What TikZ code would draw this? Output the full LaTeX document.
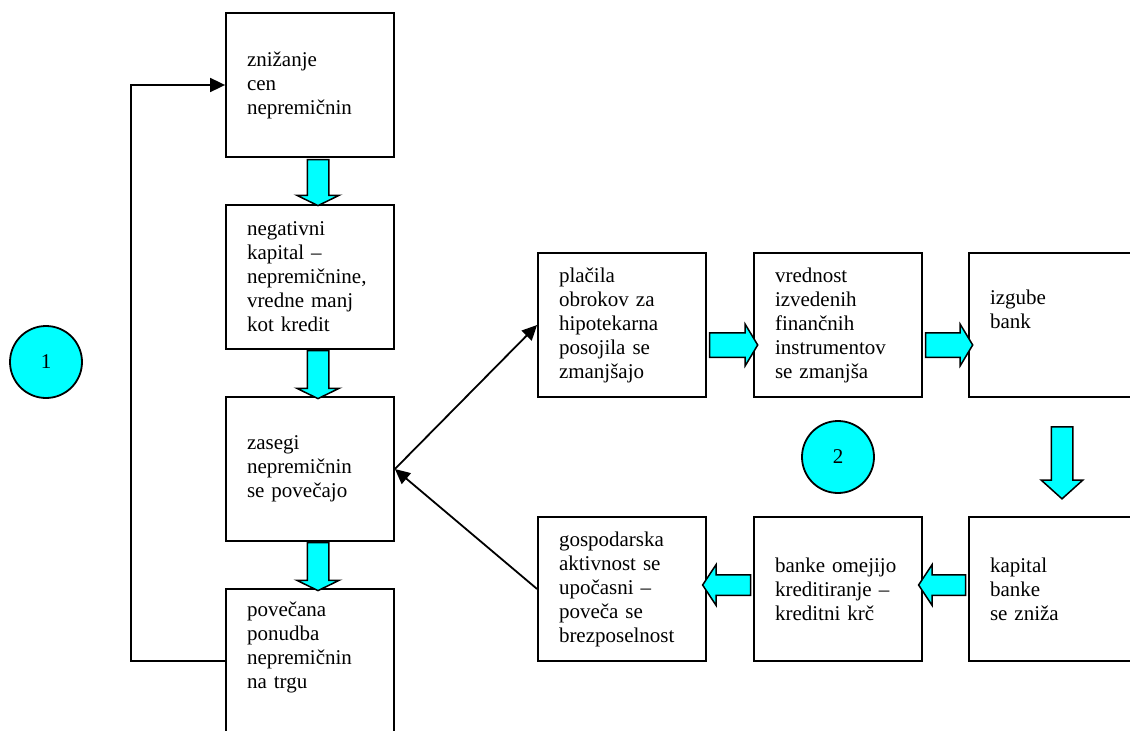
\documentclass[tikz,border=0pt]{standalone}
\usepackage{fontspec}
\setmainfont{Liberation Serif}
\usetikzlibrary{shapes,arrows.meta,positioning}
\definecolor{aqua}{RGB}{0,255,255}

\begin{document}
\begin{tikzpicture}[x=1pt,y=-1pt]
	\tikzstyle{Box}		= [draw, line width=1.8pt, rectangle, minimum width=168pt, minimum height=144pt, text width=126pt, inner xsep=21pt, inner ysep=0pt, align=left, font=\fontsize{21}{24}\selectfont]
	\tikzstyle{Num}		= [draw, line width=1.8pt, circle, fill=aqua, minimum size=72pt, inner sep=0pt, font=\fontsize{21}{24}\selectfont]
	\tikzstyle{Blk}		= [draw, line width=1.5pt, fill=aqua, single arrow, inner xsep=0pt, inner ysep=10pt, text height=0pt, text depth=0pt, text width=0pt, single arrow head extend=10.5pt]
	\tikzstyle{Down}	= [rotate=-90, single arrow tip angle=128]
	\tikzstyle{Right}	= [inner ysep=11.5pt, single arrow head extend=8.5pt, single arrow tip angle=118]
	\tikzstyle{Left}	= [rotate=180, inner ysep=9.5pt, single arrow head extend=10pt, single arrow tip angle=113]
	\tikzstyle{Flow}	= [line width=1.8pt, -{Triangle[length=15pt,width=14pt]}]

	\clip (0,0) rectangle (1130,731);

	\node (zn)  at (310,85)  [Box] {znižanje\\cen\\nepremičnin};
	\node (neg) at (310,277) [Box] {negativni\\kapital –\\nepremičnine,\\vredne manj\\kot kredit};
	\node (zas) at (310,469) [Box] {zasegi\\nepremičnin\\se povečajo};
	\node (pov) at (310,661) [Box] {povečana\\ponudba\\nepremičnin\\na trgu\\\strut};

	\node (pla) at (622,325)  [Box] {plačila\\obrokov za\\hipotekarna\\posojila se\\zmanjšajo};
	\node (vre) at (838,325)  [Box] {vrednost\\izvedenih\\finančnih\\instrumentov\\se zmanjša};
	\node (izg) at (1053,325) [Box] {izgube\\bank\\\strut};

	\node (gos) at (622,589)  [Box] {gospodarska\\aktivnost se\\upočasni –\\poveča se\\brezposelnost};
	\node (ban) at (838,589)  [Box] {banke omejijo\\kreditiranje –\\kreditni krč};
	\node (kap) at (1053,589) [Box] {kapital\\banke\\se zniža};

	\node (n1) at (46,362)  [Num] {1};
	\node (n2) at (838,457) [Num] {2};

	\node (a1) at (318,180)   [Blk][Down][minimum height=46pt] {};
	\node (a2) at (318,372)   [Blk][Down][minimum height=48pt] {};
	\node (a3) at (318,564)   [Blk][Down][minimum height=48pt] {};
	\node (a4) at (730,345)   [Blk][Right][minimum height=48pt] {};
	\node (a5) at (945.5,345) [Blk][Right][minimum height=47pt] {};
	\node (a6) at (1062,458)  [Blk][Down][minimum height=72pt, single arrow tip angle=96, single arrow head extend=10pt] {};
	\node (a7) at (945.5,585) [Blk][Left][minimum height=47pt] {};
	\node (a8) at (730,585)   [Blk][Left][minimum height=48pt] {};

	\coordinate (loop) at (131,661);
	\draw [Flow] (pov.west) -- (loop) |- (zn.west);
	\draw [Flow] (zas.east) -- (pla.west);
	\draw [Flow] (gos.west) -- (zas.east);
\end{tikzpicture}
\end{document}
